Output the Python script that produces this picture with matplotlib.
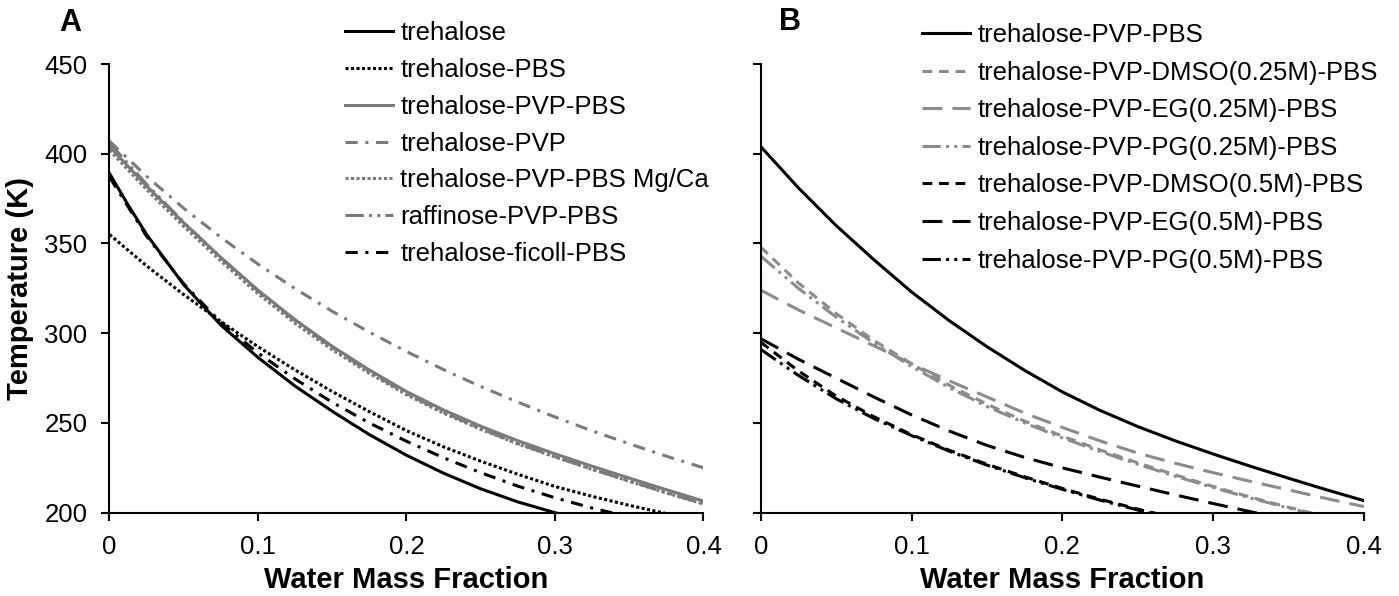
import numpy as np
import matplotlib
matplotlib.use("Agg")
import matplotlib.pyplot as plt

plt.rcParams['font.family'] = ['Liberation Sans', 'DejaVu Sans']

# water mass fraction grid used by most curves
xw = [0, 0.025, 0.05, 0.075, 0.1, 0.125, 0.15, 0.175, 0.2, 0.225, 0.25,
      0.275, 0.3, 0.325, 0.35, 0.375, 0.4]

# ---- panel A (Tg in K) ----
x_tre = [0, 0.0125, 0.025, 0.05, 0.075, 0.1, 0.125, 0.15, 0.175, 0.2, 0.225,
         0.25, 0.275, 0.3, 0.31]
t_tre = [389, 371.5, 355, 327, 304.5, 286.5, 270.5, 256.5, 243.5, 232, 222,
         213.3, 206, 200, 198]

x_tre_pbs = xw[:16]
t_tre_pbs = [355, 337.5, 321.5, 306.5, 292.5, 279.5, 267.5, 256.3, 245.7, 236.7,
             228.7, 221.4, 214.6, 209.1, 204.1, 199.5]

t_pvp_pbs = [404, 382, 361.5, 342.2, 324, 307.5, 292.7, 279.5, 267.5, 257.2,
             248.2, 240.1, 232.8, 225.9, 219.3, 212.8, 206.5]
t_pvp = [407, 387.4, 369.6, 353.4, 338.5, 324.8, 312.2, 300.6, 289.8, 279.7,
         270.3, 261.6, 253.3, 245.6, 238.4, 231.5, 225]
t_mgca = [402, 380, 359.5, 340.2, 322, 305.5, 290.8, 277.6, 265.7, 255.4,
          246.4, 238.3, 231, 224.1, 217.5, 211, 204.8]
t_raff = [406, 383, 361.8, 342, 323.5, 307, 292, 278.6, 266.5, 256, 246.8,
          238.6, 231.2, 224.3, 217.7, 211.2, 205]

x_ficoll = xw[:15]
t_ficoll = [387, 354, 327.5, 306, 289, 274.5, 261.5, 250, 239.8, 230.6, 222.3,
            214.8, 208.3, 202.6, 197.6]

# ---- panel B ----
tb_pvp_pbs = [404, 381, 360, 341, 323, 307, 292.5, 279.3, 267.3, 257, 248,
              240, 232.7, 225.8, 219.2, 212.8, 206.7]

x_25 = xw[:16]
tb_dmso25 = [348, 328, 311, 296, 283, 271, 260.5, 251, 242.7, 235, 227.8,
             221, 214.6, 208.6, 203, 197.8]
tb_eg25 = [324, 313, 303, 293, 283, 273.5, 264.5, 255.5, 247.5, 240, 233.2,
           227.5, 222.3, 217.4, 212.7, 207.9, 203.4]
tb_pg25 = [343, 325, 309, 294.5, 281.5, 269.7, 259.2, 250, 241.7, 234.1, 227,
           220.3, 214, 208.1, 202.6, 197.5]

x_05 = xw[:12]
tb_dmso5 = [295, 279, 265, 253.5, 243.5, 234.8, 227, 220, 213.5, 207.5, 202, 197]
tb_pg5 = [291, 276.5, 263.5, 252.5, 243, 234.3, 226.5, 219.5, 213, 207, 201.5, 196.5]

x_eg5 = xw[:15]
tb_eg5 = [297, 285.5, 275, 264.5, 254.5, 245.5, 237.5, 230.8, 225, 219.8,
          214.8, 209.9, 205.1, 200.5, 196]

xticks = [0, 0.1, 0.2, 0.3, 0.4]
xtick_labels = ['0', '0.1', '0.2', '0.3', '0.4']
yticks = [200, 250, 300, 350, 400, 450]

GA = '#7a7a7a'
GB = '#8c8c8c'
LW = 2.2
dotted = (0, (1, 0.8))
dashdot = (0, (4, 2.5, 1, 2.5))
dashdotdot = (0, (6, 1.7, 1, 1.7, 1, 1.7))
short_dash = (0, (3.2, 2.2))
long_dash = (0, (6.5, 3.3))

fig = plt.figure(figsize=(13.99, 5.96), dpi=100)
W, H = 1399, 596


def style_axes(ax, ylabels=True):
    ax.set_xlim(0, 0.4)
    ax.set_ylim(200, 450)
    ax.spines['top'].set_visible(False)
    ax.spines['right'].set_visible(False)
    ax.spines['left'].set_linewidth(1.5)
    ax.spines['bottom'].set_linewidth(1.5)
    ax.set_xticks(xticks)
    ax.set_xticklabels(xtick_labels)
    ax.set_yticks(yticks)
    if not ylabels:
        ax.set_yticklabels([])
    ax.tick_params(axis='both', direction='out', length=6, width=1.5, labelsize=18.5)
    ax.tick_params(axis='y', pad=10)
    ax.tick_params(axis='x', pad=10)
    ax.set_xlabel('Water Mass Fraction', fontsize=21, fontweight='bold', labelpad=5)


bottom = 1 - 512.7 / H
top = 1 - 64 / H
axA = fig.add_axes([109.5 / W, bottom, (703.5 - 109.5) / W, top - bottom])
axB = fig.add_axes([760.7 / W, bottom, (1364 - 760.7) / W, top - bottom])

axA.plot(x_tre, t_tre, color='black', lw=LW, label='trehalose')
axA.plot(x_tre_pbs, t_tre_pbs, color='black', lw=LW, ls=dotted, label='trehalose-PBS')
axA.plot(xw, t_pvp_pbs, color=GA, lw=LW, label='trehalose-PVP-PBS')
axA.plot(xw, t_pvp, color=GA, lw=LW, ls=dashdot, label='trehalose-PVP')
axA.plot(xw, t_mgca, color=GA, lw=LW, ls=dotted, label='trehalose-PVP-PBS Mg/Ca')
axA.plot(xw, t_raff, color=GA, lw=LW, ls=dashdotdot, label='raffinose-PVP-PBS')
axA.plot(x_ficoll, t_ficoll, color='black', lw=LW, ls=dashdot, label='trehalose-ficoll-PBS')
style_axes(axA)

axB.plot(xw, tb_pvp_pbs, color='black', lw=LW, label='trehalose-PVP-PBS')
axB.plot(x_25, tb_dmso25, color=GB, lw=LW, ls=short_dash, label='trehalose-PVP-DMSO(0.25M)-PBS')
axB.plot(xw, tb_eg25, color=GB, lw=LW, ls=long_dash, label='trehalose-PVP-EG(0.25M)-PBS')
axB.plot(x_25, tb_pg25, color=GB, lw=LW, ls=dashdotdot, label='trehalose-PVP-PG(0.25M)-PBS')
axB.plot(x_05, tb_dmso5, color='black', lw=LW, ls=short_dash, label='trehalose-PVP-DMSO(0.5M)-PBS')
axB.plot(x_eg5, tb_eg5, color='black', lw=LW, ls=long_dash, label='trehalose-PVP-EG(0.5M)-PBS')
axB.plot(x_05, tb_pg5, color='black', lw=LW, ls=dashdotdot, label='trehalose-PVP-PG(0.5M)-PBS')
style_axes(axB, ylabels=False)

leg_kw = dict(frameon=False, fontsize=18.5, loc='upper left', borderpad=0, borderaxespad=0,
              handlelength=1.85, handletextpad=0.3)
fig.legend(handles=axA.get_lines(), bbox_to_anchor=(345 / W, 1 - 21 / H),
           labelspacing=0.5, **leg_kw)
fig.legend(handles=axB.get_lines(), bbox_to_anchor=(922 / W, 1 - 23 / H),
           labelspacing=0.53, **leg_kw)

fig.text(20 / W, 1 - 288 / H, 'Temperature (K)', rotation=90, ha='center', va='center',
         fontsize=21, fontweight='bold')
fig.text(70 / W, 1 - 23 / H, 'A', ha='center', va='center', fontsize=22, fontweight='bold')
fig.text(790 / W, 1 - 22 / H, 'B', ha='center', va='center', fontsize=22, fontweight='bold')

fig.savefig('out.png', dpi=100)
